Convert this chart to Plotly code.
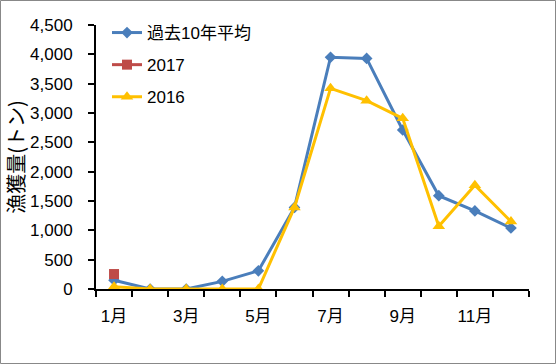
import plotly.graph_objects as go

months = [f"{m}月" for m in range(1, 13)]
avg10 = [150, 0, 0, 130, 310, 1390, 3950, 3930, 2710, 1590, 1330, 1040]
y2017 = [255, None, None, None, None, None, None, None, None, None, None, None]
y2016 = [40, 0, 0, 0, 0, 1390, 3420, 3210, 2910, 1070, 1770, 1150]
yticks = list(range(0, 4501, 500))

xs = list(range(1, 13))
W, H = 556, 364
L, R, T, B = 96, 27, 25, 75
pw, ph = W - L - R, H - T - B

font_main = "Liberation Sans, Noto Sans CJK JP, sans-serif"

fig = go.Figure()
fig.add_trace(go.Scatter(x=xs, y=avg10, name="過去10年平均", mode="lines+markers",
                         legendgroup="a",
                         line=dict(color="#4A7EBB", width=3),
                         marker=dict(symbol="diamond", size=9, color="#4A7EBB")))
fig.add_trace(go.Scatter(x=xs, y=y2017, name="2017", mode="lines+markers",
                         legendgroup="b",
                         line=dict(color="#BE4B48", width=3),
                         marker=dict(symbol="square", size=10, color="#BE4B48")))
fig.add_trace(go.Scatter(x=xs, y=y2016, name="2016", mode="lines+markers",
                         legendgroup="c",
                         line=dict(color="#FFC000", width=3),
                         marker=dict(symbol="triangle-up", size=11, color="#FFC000")))

fig.update_layout(
    width=W, height=H,
    margin=dict(l=L, r=R, t=T, b=B, pad=0),
    paper_bgcolor="white", plot_bgcolor="white",
    font=dict(family=font_main, size=17, color="black"),
    showlegend=True,
    legend=dict(x=(107 - L) / pw, y=1 - (15 - T) / ph, xanchor="left", yanchor="top",
                bgcolor="rgba(0,0,0,0)", font=dict(size=17),
                tracegroupgap=7, itemwidth=30),
    xaxis=dict(range=[0.5, 12.5], tickmode="array",
               tickvals=xs[::2], ticktext=months[::2],
               ticks="", showgrid=False, zeroline=False,
               showline=True, linecolor="black", linewidth=2,
               tickfont=dict(size=17), ticklabelstandoff=11,
               minor=dict(tickmode="array", tickvals=[x - 0.5 for x in xs] + [12.5],
                          ticks="outside", ticklen=6, tickwidth=2, tickcolor="black",
                          showgrid=False)),
    yaxis=dict(range=[0, 4500], tickmode="array", tickvals=yticks,
               ticktext=[f"{v:,}" for v in yticks],
               ticks="outside", ticklen=6, tickwidth=2, tickcolor="black",
               showgrid=False, zeroline=False, showline=True,
               linecolor="black", linewidth=2, tickfont=dict(size=17),
               ticklabelstandoff=12,
               title=dict(text="漁獲量(トン)", standoff=0,
                          font=dict(size=20, family="Noto Sans CJK JP, sans-serif"))),
    shapes=[dict(type="rect", xref="paper", yref="paper",
                 x0=(0.5 - L) / pw, x1=(W - 0.5 - L) / pw,
                 y0=-(B - 0.5) / ph, y1=1 + (T - 0.5) / ph,
                 line=dict(color="#888888", width=1))],
)

fig.write_html("out.html", config={"displayModeBar": False},
               post_script="document.body.style.margin='0';")
